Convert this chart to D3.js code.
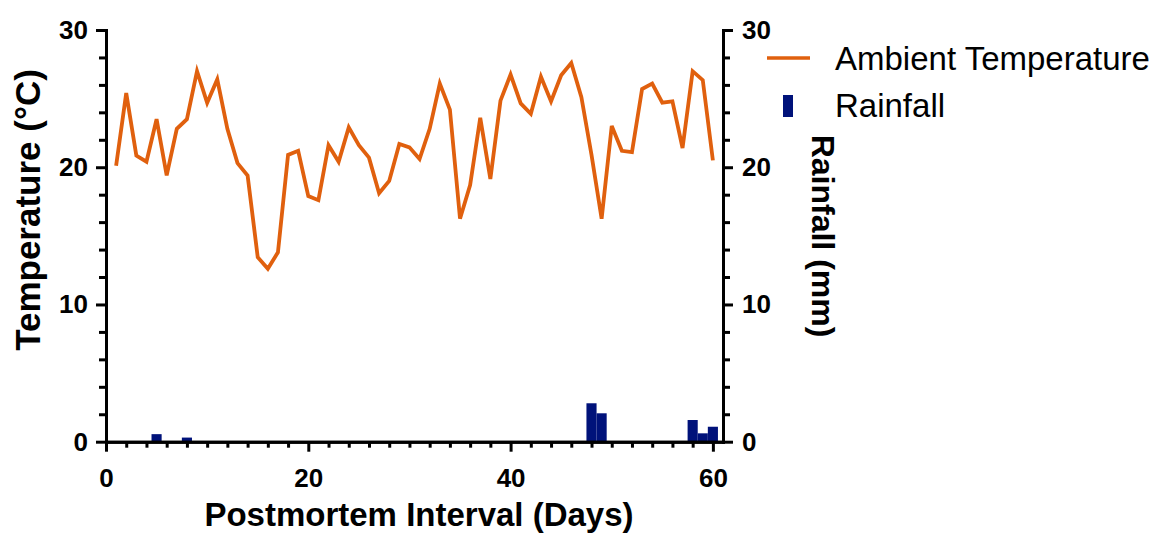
<!DOCTYPE html>
<html lang="en">
<head>
	<meta charset="utf-8">
	<script src="https://d3js.org/d3.v7.min.js"></script>
	<style type="text/css">
		body {
			margin: 0;
			background: #fff;
		}
		.axis text {
			font-family: "Liberation Sans", Arial, sans-serif;
			font-weight: bold;
			font-size: 26px;
			fill: #000;
		}
		.axis path, .axis line {
			stroke: #000;
			stroke-width: 3px;
		}
		.title {
			font-family: "Liberation Sans", Arial, sans-serif;
			font-weight: bold;
			fill: #000;
		}
		.legend text {
			font-family: "Liberation Sans", Arial, sans-serif;
			font-size: 33px;
			fill: #000;
		}
		.line {
			fill: none;
			stroke: #e0600e;
			stroke-width: 3.8px;
			stroke-linejoin: miter;
		}
	</style>
	<title>Temperature and Rainfall</title>
</head>
<body>

<svg id="chart" width="1164" height="541"></svg>

<script type="text/javascript">

	// day of postmortem interval
	var days = [1, 2, 3, 4, 5, 6, 7, 8, 9, 10,
		11, 12, 13, 14, 15, 16, 17, 18, 19, 20,
		21, 22, 23, 24, 25, 26, 27, 28, 29, 30,
		31, 32, 33, 34, 35, 36, 37, 38, 39, 40,
		41, 42, 43, 44, 45, 46, 47, 48, 49, 50,
		51, 52, 53, 54, 55, 56, 57, 58, 59, 60];

	// ambient temperature (°C)
	var temperature = [20.1, 25.4, 20.85, 20.4, 23.5, 19.4, 22.8, 23.5, 27.0, 24.7,
		26.4, 22.8, 20.3, 19.4, 13.45, 12.6, 13.8, 20.9, 21.2, 17.9,
		17.6, 21.6, 20.4, 22.9, 21.6, 20.7, 18.1, 19.0, 21.7, 21.45,
		20.6, 22.8, 26.1, 24.2, 16.25, 18.7, 23.6, 19.15, 24.85, 26.75,
		24.65, 23.9, 26.6, 24.8, 26.7, 27.6, 25.1, 20.9, 16.25, 23.0,
		21.2, 21.1, 25.7, 26.1, 24.7, 24.8, 21.4, 27.0, 26.35, 20.5];

	// days with rain and rainfall (mm)
	var rainDays = [5, 8, 48, 49, 58, 59, 60];
	var rainfall = [0.55, 0.3, 2.8, 2.07, 1.58, 0.61, 1.09];

	var xMajor = [0, 20, 40, 60];
	var xMinor = [2, 4, 6, 8, 10, 12, 14, 16, 18, 22, 24, 26, 28, 30, 32, 34, 36, 38,
		42, 44, 46, 48, 50, 52, 54, 56, 58];
	var yMajor = [0, 10, 20, 30];
	var yMinor = [2, 4, 6, 8, 12, 14, 16, 18, 22, 24, 26, 28];

	var legendLabels = ["Ambient Temperature", "Rainfall"];

	var svg = d3.select("#chart");
	var plotLeft = 106, plotRight = 723, plotTop = 30, plotBottom = 441.7;

	var x = d3.scaleLinear().domain([0, 61]).range([plotLeft, plotRight]);
	var yTemp = d3.scaleLinear().domain([0, 30]).range([plotBottom, plotTop]);
	var yRain = d3.scaleLinear().domain([0, 30]).range([plotBottom, plotTop]);

	var tempData = days.map(function(d, i) { return {day: d, t: temperature[i]}; });
	var rainData = rainDays.map(function(d, i) { return {day: d, mm: rainfall[i]}; });

	//Rainfall bars
	var barW = x(1) - x(0);
	svg.append("g")
		.selectAll("rect")
		.data(rainData)
		.enter().append("rect")
		.attr("x", function(d) { return x(d.day) - barW / 2; })
		.attr("width", barW)
		.attr("y", function(d) { return yRain(d.mm); })
		.attr("height", function(d) { return plotBottom - yRain(d.mm); })
		.attr("fill", "#00127a");

	//Temperature line
	var line = d3.line()
		.x(function(d) { return x(d.day); })
		.y(function(d) { return yTemp(d.t); });

	svg.append("path")
		.datum(tempData)
		.attr("class", "line")
		.attr("d", line);

	//Axes
	svg.append("g")
		.attr("class", "axis")
		.attr("transform", "translate(0," + plotBottom + ")")
		.call(d3.axisBottom(x).tickValues(xMajor).tickSize(10).tickSizeOuter(0).tickPadding(17));
	svg.append("g")
		.attr("class", "axis")
		.attr("transform", "translate(0," + plotBottom + ")")
		.call(d3.axisBottom(x).tickValues(xMinor).tickSize(6).tickSizeOuter(0).tickFormat(""));

	svg.append("g")
		.attr("class", "axis")
		.attr("transform", "translate(" + plotLeft + ",0)")
		.call(d3.axisLeft(yTemp).tickValues(yMajor).tickSize(10).tickSizeOuter(0).tickPadding(8));
	svg.append("g")
		.attr("class", "axis")
		.attr("transform", "translate(" + plotLeft + ",0)")
		.call(d3.axisLeft(yTemp).tickValues(yMinor).tickSize(7).tickSizeOuter(0).tickFormat(""));

	svg.append("g")
		.attr("class", "axis")
		.attr("transform", "translate(" + plotRight + ",0)")
		.call(d3.axisRight(yRain).tickValues(yMajor).tickSize(10).tickSizeOuter(0).tickPadding(9));
	svg.append("g")
		.attr("class", "axis")
		.attr("transform", "translate(" + plotRight + ",0)")
		.call(d3.axisRight(yRain).tickValues(yMinor).tickSize(7).tickSizeOuter(0).tickFormat(""));

	svg.selectAll(".axis path.domain").attr("stroke-linecap", "square");

	//Axis titles
	svg.append("text")
		.attr("class", "title")
		.attr("x", 419)
		.attr("y", 526)
		.attr("text-anchor", "middle")
		.style("font-size", "33px")
		.text("Postmortem Interval (Days)");

	svg.append("text")
		.attr("class", "title")
		.attr("transform", "translate(40,210) rotate(-90)")
		.attr("text-anchor", "middle")
		.style("font-size", "35px")
		.text("Temperature (°C)");

	svg.append("text")
		.attr("class", "title")
		.attr("transform", "translate(812,236) rotate(90)")
		.attr("text-anchor", "middle")
		.style("font-size", "32px")
		.text("Rainfall (mm)");

	//Legend
	var legend = svg.append("g").attr("class", "legend");

	legend.append("line")
		.attr("x1", 767).attr("x2", 810)
		.attr("y1", 58).attr("y2", 58)
		.attr("stroke", "#e0600e")
		.attr("stroke-width", 3.5);

	legend.append("rect")
		.attr("x", 783).attr("y", 95)
		.attr("width", 10).attr("height", 22)
		.attr("fill", "#00127a");

	legend.selectAll("text")
		.data(legendLabels)
		.enter().append("text")
		.attr("x", 835)
		.attr("y", function(d, i) { return 70 + i * 47; })
		.text(function(d) { return d; });

</script>
</body>
</html>
